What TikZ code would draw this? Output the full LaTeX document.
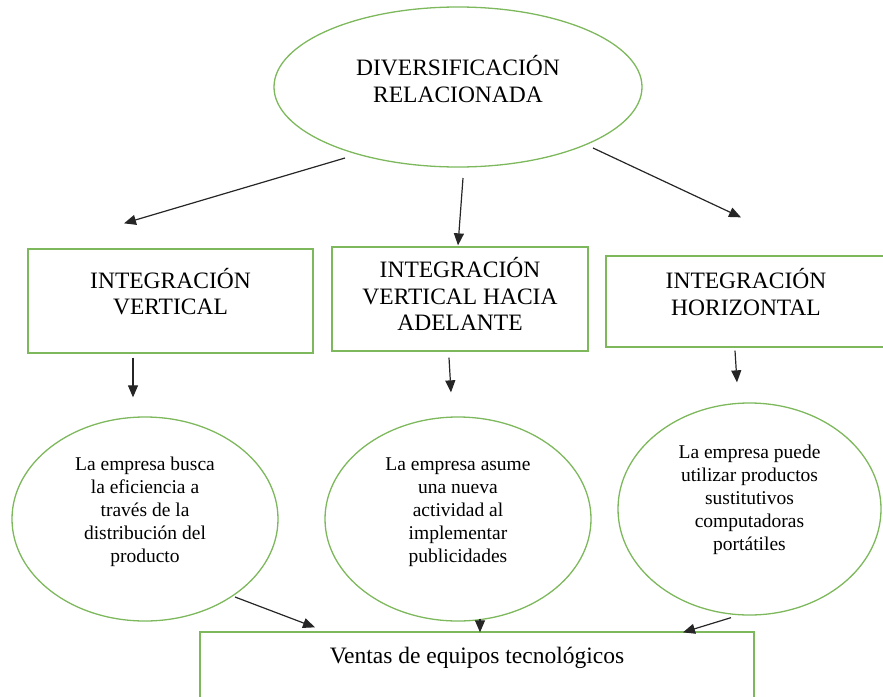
\documentclass[tikz,border=0pt]{standalone}
\usepackage{fontspec}
\setmainfont{Liberation Serif}
\usetikzlibrary{shapes.geometric,arrows.meta,calc}
\definecolor{lgreen}{HTML}{7DB85C}
\begin{document}
\begin{tikzpicture}[x=1pt,y=-1pt,
  shapeline/.style={draw=lgreen,line width=1.3pt,inner sep=0pt},
  oval/.style={shapeline,ellipse},
  boxnode/.style={shapeline,rectangle},
  bigtxt/.style={font=\fontsize{23.5}{26.5}\selectfont,align=center,inner sep=0pt},
  smalltxt/.style={font=\fontsize{19.5}{23}\selectfont,align=center,inner sep=0pt},
  arr/.style={draw=black!85,line width=1.2pt,-{Triangle[length=12pt,width=10pt]}}]
\useasboundingbox (0,0) rectangle (883,696);
% shapes
\node[oval,minimum width=368,minimum height=160] (top) at (458,87) {};
\node[boxnode,minimum width=285,minimum height=104] (b1) at (170.5,301) {};
\node[boxnode,minimum width=256,minimum height=104] (b2) at (460,299) {};
\node[boxnode,minimum width=284,minimum height=91] (b3) at (748,301.5) {};
\node[oval,minimum width=266,minimum height=204] (c1) at (145,519) {};
\node[oval,minimum width=266,minimum height=204] (c2) at (458,519) {};
\node[oval,minimum width=263,minimum height=212] (c3) at (749.5,509) {};
\node[boxnode,minimum width=554,minimum height=100] (bot) at (477,682) {};
% texts
\node[bigtxt] (toptxt) at (458,79) {DIVERSIFICACIÓN\\RELACIONADA};
\node[bigtxt] (b1txt) at (170.5,291.5) {INTEGRACIÓN\\VERTICAL};
\node[bigtxt] (b2txt) at (460,294) {INTEGRACIÓN\\VERTICAL HACIA\\ADELANTE};
\node[bigtxt] (b3txt) at (746,292) {INTEGRACIÓN\\HORIZONTAL};
\node[smalltxt] (c1txt) at (145,512) {La empresa busca\\la eficiencia a\\través de la\\distribución del\\producto};
\node[smalltxt] (c2txt) at (458,512) {La empresa asume\\una nueva\\actividad al\\implementar\\publicidades};
\node[smalltxt] (c3txt) at (749.5,500) {La empresa puede\\utilizar productos\\sustitutivos\\computadoras\\portátiles};
\node[bigtxt] (bottxt) at (477,658) {Ventas de equipos tecnológicos};
% connectors
\draw[arr] ($(top.center)+(-113,71)$) -- ($(b1.north)+(-46.5,-25)$);
\draw[arr] ($(top.center)+(5,91)$) -- ($(b2.north)+(-2,-1)$);
\draw[arr] ($(top.center)+(135,61)$) -- ($(b3.north)+(-7,-38)$);
\draw[arr] ($(b1.south)+(-37.5,4)$) -- ($(c1.north)+(-12,-19)$);
\draw[arr] ($(b2.south)+(-11,6)$) -- ($(c2.north)+(-7,-24)$);
\draw[arr] ($(b3.south)+(-13,3)$) -- ($(c3.north)+(-12.5,-20)$);
\draw[arr] ($(c1.center)+(90,78)$) -- ($(bot.north)+(-162,-4)$);
\draw[arr] ($(c2.south)+(22,-3)$) -- ($(bot.north)+(3,1)$);
\draw[arr] ($(c3.south)+(-18.5,2)$) -- ($(bot.north)+(206,1)$);
\end{tikzpicture}
\end{document}
